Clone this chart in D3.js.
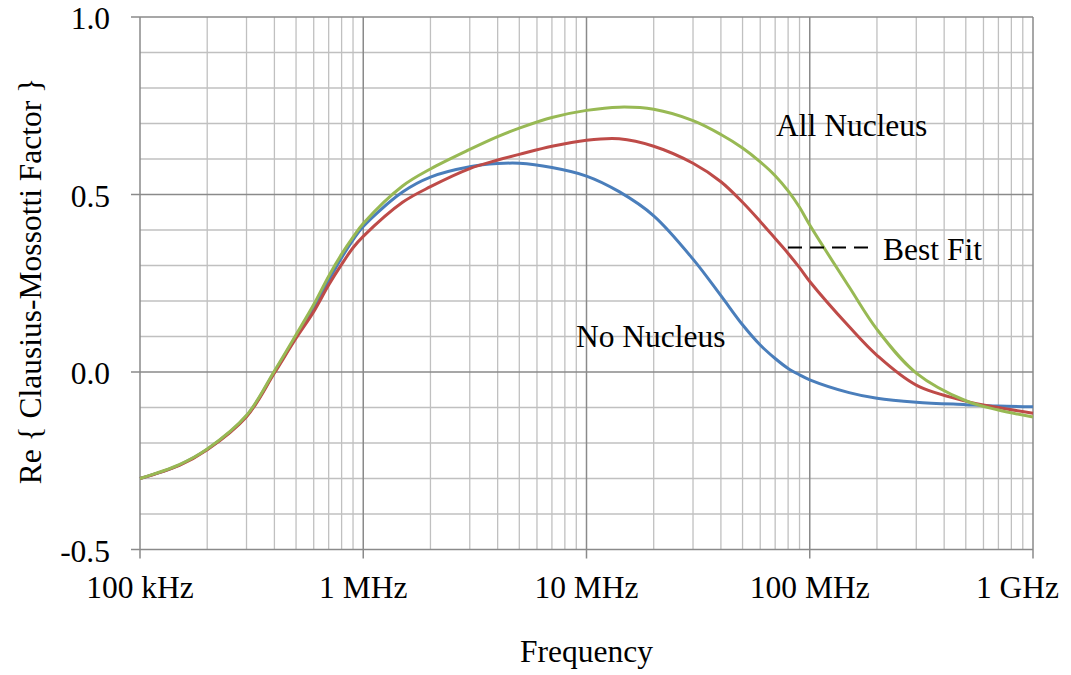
<!DOCTYPE html>
<html>
<head>
<meta charset="utf-8">
<script src="https://cdn.jsdelivr.net/npm/d3@7"></script>
<style>
  html, body { margin: 0; padding: 0; background: #fff; }
  text { font-family: "Liberation Serif", "Times New Roman", serif; fill: #000; }
</style>
</head>
<body>
<script>
// ─── DATA ────────────────────────────────────────────────────────────────
// frequency samples (Hz) and Re{CM factor}
const freqs = [1e5, 1.5e5, 2e5, 3e5, 4e5, 5e5, 6e5, 7e5, 8e5, 9e5, 1e6, 1.5e6, 2e6, 3e6, 4e6, 5e6, 7e6,
  1e7, 1.4e7, 2e7, 3e7, 4e7, 5e7, 6e7, 7e7, 8e7, 9e7, 1e8, 1.5e8, 2e8, 3e8, 5e8, 7e8, 1e9];

const noNucleus = [-0.300, -0.262, -0.218, -0.124, 0.000, 0.100, 0.183, 0.258, 0.322, 0.372, 0.410, 0.507,
  0.549, 0.578, 0.587, 0.588, 0.576, 0.552, 0.508, 0.440, 0.318, 0.215, 0.133, 0.076, 0.038, 0.010,
  -0.008, -0.022, -0.058, -0.074, -0.085, -0.092, -0.096, -0.098];

const bestFit = [-0.300, -0.263, -0.219, -0.126, -0.003, 0.095, 0.170, 0.245, 0.303, 0.350, 0.382, 0.478,
  0.522, 0.573, 0.597, 0.613, 0.636, 0.653, 0.657, 0.636, 0.588, 0.536, 0.478, 0.424, 0.376, 0.334,
  0.294, 0.255, 0.128, 0.047, -0.037, -0.082, -0.100, -0.116];

const allNucleus = [-0.300, -0.261, -0.217, -0.122, 0.003, 0.105, 0.190, 0.270, 0.332, 0.380, 0.418, 0.524,
  0.572, 0.627, 0.663, 0.687, 0.717, 0.737, 0.746, 0.740, 0.708, 0.669, 0.631, 0.592, 0.553, 0.510,
  0.464, 0.414, 0.240, 0.120, -0.003, -0.081, -0.107, -0.127];

const xTicks = [1e5, 1e6, 1e7, 1e8, 1e9];
const xTickLabels = ["100 kHz", "1 MHz", "10 MHz", "100 MHz", "1 GHz"];
const yTicks = [-0.5, 0, 0.5, 1.0];

// ─── LAYOUT ──────────────────────────────────────────────────────────────
const width = 1071, height = 675;
const plot = { left: 140, right: 1033, top: 17, bottom: 549.5 };
const fontSize = 31.5;

const x = d3.scaleLog().domain([1e5, 1e9]).range([plot.left, plot.right]);
const y = d3.scaleLinear().domain([-0.5, 1.0]).range([plot.bottom, plot.top]);

const svg = d3.select("body").append("svg")
  .attr("width", width)
  .attr("height", height);

// minor grid
const minorX = [];
for (let d = 1e5; d < 1e9; d *= 10) for (let k = 2; k <= 9; k++) minorX.push(d * k);
const minorY = d3.range(-5, 11).map(i => i / 10).filter(v => !yTicks.some(t => Math.abs(t - v) < 1e-9));

svg.append("g").selectAll("line")
  .data(minorX)
  .join("line")
    .attr("x1", d => x(d)).attr("x2", d => x(d))
    .attr("y1", plot.top).attr("y2", plot.bottom)
    .attr("stroke", "#c0c0c0").attr("stroke-width", 1.3);

svg.append("g").selectAll("line")
  .data(minorY)
  .join("line")
    .attr("x1", plot.left).attr("x2", plot.right)
    .attr("y1", d => y(d)).attr("y2", d => y(d))
    .attr("stroke", "#c0c0c0").attr("stroke-width", 1.3);

// major grid (with outward tick marks)
svg.append("g").selectAll("line")
  .data(xTicks)
  .join("line")
    .attr("x1", d => x(d)).attr("x2", d => x(d))
    .attr("y1", plot.top).attr("y2", plot.bottom + 9)
    .attr("stroke", "#8a8a8a").attr("stroke-width", 1.5);

svg.append("g").selectAll("line")
  .data(yTicks)
  .join("line")
    .attr("x1", plot.left - 9).attr("x2", plot.right)
    .attr("y1", d => y(d)).attr("y2", d => y(d))
    .attr("stroke", "#8a8a8a").attr("stroke-width", 1.5);

// tick labels
svg.append("g").selectAll("text")
  .data(yTicks)
  .join("text")
    .attr("x", 110)
    .attr("y", d => y(d) + 12)
    .attr("text-anchor", "end")
    .attr("font-size", fontSize)
    .text(d => d3.format(".1f")(d).replace("\u2212", "-"));

// last label is pulled inside the page, as in the original
svg.append("g").selectAll("text")
  .data(xTicks)
  .join("text")
    .attr("x", (d, i) => i === xTicks.length - 1 ? width - 12 : x(d))
    .attr("y", plot.bottom + 48.5)
    .attr("text-anchor", (d, i) => i === xTicks.length - 1 ? "end" : "middle")
    .attr("font-size", fontSize)
    .text((d, i) => xTickLabels[i]);

// axis titles
svg.append("text")
  .attr("x", (plot.left + plot.right) / 2)
  .attr("y", 662)
  .attr("text-anchor", "middle")
  .attr("font-size", fontSize)
  .text("Frequency");

svg.append("text")
  .attr("transform", "translate(41,281) rotate(-90)")
  .attr("text-anchor", "middle")
  .attr("font-size", fontSize)
  .text("Re { Clausius-Mossotti Factor }");

// curves
const line = d3.line()
  .x((d, i) => x(freqs[i]))
  .y(d => y(d))
  .curve(d3.curveCatmullRom.alpha(0.5));

const series = [
  { name: "No Nucleus", values: noNucleus, color: "#4a7ebb" },
  { name: "Best Fit", values: bestFit, color: "#be4b48" },
  { name: "All Nucleus", values: allNucleus, color: "#98b954" }
];

svg.append("g").selectAll("path")
  .data(series)
  .join("path")
    .attr("d", d => line(d.values))
    .attr("fill", "none")
    .attr("stroke", d => d.color)
    .attr("stroke-width", 3);

// annotations
svg.append("text")
  .attr("x", 776).attr("y", 136)
  .attr("font-size", fontSize)
  .text("All Nucleus");

svg.append("text")
  .attr("x", 576).attr("y", 347)
  .attr("font-size", fontSize)
  .text("No Nucleus");

svg.append("line")
  .attr("x1", 788).attr("x2", 868)
  .attr("y1", 247.5).attr("y2", 247.5)
  .attr("stroke", "#000").attr("stroke-width", 2.2)
  .attr("stroke-dasharray", "14,8");

svg.append("text")
  .attr("x", 883).attr("y", 260)
  .attr("font-size", fontSize)
  .text("Best Fit");
</script>
</body>
</html>
